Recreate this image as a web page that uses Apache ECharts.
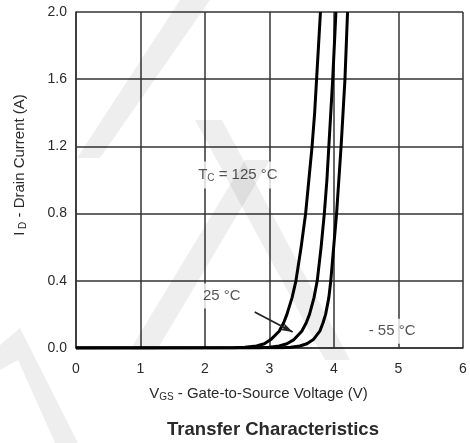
<!DOCTYPE html>
<html>
<head>
<meta charset="utf-8">
<script src="https://cdn.jsdelivr.net/npm/echarts@6/dist/echarts.min.js"></script>
<style>
  html, body { margin: 0; padding: 0; background: #fff; }
  #chart { width: 470px; height: 443px; }
</style>
</head>
<body>
<div id="chart"></div>
<script>
// Gate voltage (V) and drain current (A) for each case temperature
const vgs125 = [0, 2.45, 2.62, 2.8, 2.92, 3.02, 3.15, 3.22, 3.27, 3.35, 3.41, 3.49, 3.56, 3.61, 3.66, 3.70, 3.73, 3.76, 3.79];
const id125  = [0, 0.002, 0.005, 0.012, 0.025, 0.05, 0.1, 0.15, 0.2, 0.3, 0.4, 0.6, 0.8, 1.0, 1.2, 1.4, 1.6, 1.8, 2.0];

const vgs25 = [0, 2.85, 3.0, 3.15, 3.27, 3.38, 3.50, 3.57, 3.62, 3.69, 3.74, 3.80, 3.85, 3.89, 3.92, 3.95, 3.98, 4.005, 4.03];
const id25  = [0, 0.002, 0.005, 0.012, 0.025, 0.05, 0.1, 0.15, 0.2, 0.3, 0.4, 0.6, 0.8, 1.0, 1.2, 1.4, 1.6, 1.8, 2.0];

const vgsM55 = [0, 3.2, 3.33, 3.47, 3.58, 3.68, 3.78, 3.83, 3.87, 3.92, 3.95, 3.995, 4.04, 4.075, 4.11, 4.14, 4.17, 4.19, 4.21];
const idM55  = [0, 0.002, 0.005, 0.012, 0.025, 0.05, 0.1, 0.15, 0.2, 0.3, 0.4, 0.6, 0.8, 1.0, 1.2, 1.4, 1.6, 1.8, 2.0];

// Axis tick labels
const xTickLabels = ['0', '1', '2', '3', '4', '5', '6'];
const yTickLabels = ['0.0', '0.4', '0.8', '1.2', '1.6', '2.0'];

const FONT = '"Liberation Sans", Arial, Helvetica, sans-serif';
const INK = '#2a2a2a';
const pairs = (xs, ys) => xs.map((x, i) => [x, ys[i]]);

const chart = echarts.init(document.getElementById('chart'), null, { renderer: 'canvas' });

function curve(name, xs, ys) {
  return {
    name: name,
    type: 'line',
    data: pairs(xs, ys),
    showSymbol: false,
    smooth: false,
    clip: true,
    lineStyle: { color: '#000', width: 3, join: 'round' },
    z: 3,
    animation: false
  };
}

const subRich = {
  t: { fontSize: 15, color: INK, fontFamily: FONT },
  s: { fontSize: 10, color: INK, fontFamily: FONT, padding: [7, 0, 0, 0] }
};

function tempLabel(pos, text) {
  return {
    type: 'scatter',
    data: [pos],
    symbolSize: 0,
    silent: true,
    animation: false,
    z: 4,
    label: {
      show: true,
      position: 'inside',
      formatter: text,
      backgroundColor: '#fff',
      padding: [5, 2],
      rich: subRich
    }
  };
}

const nameRich = {
  v: { fontSize: 15, color: INK, fontFamily: FONT },
  s: { fontSize: 10, color: INK, fontFamily: FONT, padding: [7, 0, 0, 0] },
  t: { fontSize: 15, color: INK, fontFamily: FONT }
};

const option = {
  backgroundColor: '#fff',
  animation: false,
  title: {
    text: 'Transfer Characteristics',
    left: 268,
    top: 415,
    textAlign: 'center',
    textStyle: { fontFamily: FONT, fontSize: 18.5, fontWeight: 'bold', color: INK }
  },
  grid: { left: 76, right: 7, top: 12, bottom: 95, containLabel: false },
  xAxis: {
    type: 'value',
    min: 0, max: 6, interval: 1,
    name: '{v|V}{s|GS}{t| - Gate-to-Source Voltage (V)}',
    nameLocation: 'middle',
    nameGap: 37,
    nameTextStyle: { padding: [0, 22, 0, 0], rich: nameRich },
    axisLine: { show: true, lineStyle: { color: '#333', width: 1.5 } },
    axisTick: { show: false },
    axisLabel: {
      margin: 14,
      fontFamily: FONT, fontSize: 14, color: INK,
      formatter: (v) => xTickLabels[Math.round(v)]
    },
    splitLine: { show: true, lineStyle: { color: '#333', width: 1.5 } }
  },
  yAxis: {
    type: 'value',
    min: 0, max: 2, interval: 0.4,
    name: '{v|I}{s| D}{t| - Drain Current (A)}',
    nameLocation: 'middle',
    nameGap: 48,
    nameRotate: 90,
    nameTextStyle: { padding: [0, 0, 0, 30], rich: nameRich },
    axisLine: { show: true, lineStyle: { color: '#333', width: 1.5 } },
    axisTick: { show: false },
    axisLabel: {
      margin: 9,
      fontFamily: FONT, fontSize: 14, color: INK,
      formatter: (v) => yTickLabels[Math.round(v / 0.4)]
    },
    splitLine: { show: true, lineStyle: { color: '#333', width: 1.5 } }
  },
  series: [
    curve('125 °C', vgs125, id125),
    Object.assign(curve('25 °C', vgs25, id25), {
      markLine: {
        silent: true,
        animation: false,
        symbol: ['none', 'arrow'],
        symbolSize: [6, 12],
        label: { show: false },
        lineStyle: { color: '#222', width: 1.8, type: 'solid' },
        data: [[{ coord: [2.77, 0.214] }, { coord: [3.36, 0.095] }]]
      }
    }),
    curve('-55 °C', vgsM55, idM55),
    tempLabel([2.51, 1.03], '{t|T}{s|C}{t| = 125 °C}'),
    tempLabel([2.26, 0.31], '{t|25 °C}'),
    tempLabel([4.9, 0.1], '{t|- 55 °C}')
  ],
  graphic: [
    { type: 'polygon', silent: true, z: 100,
      shape: { points: [[180, 0], [210, 0], [100, 158], [77, 158]] },
      style: { fill: 'rgba(0,0,0,0.065)' } },
    { type: 'polygon', silent: true, z: 100,
      shape: { points: [[245, 160], [270, 160], [157, 350], [130, 350]] },
      style: { fill: 'rgba(0,0,0,0.065)' } },
    { type: 'polygon', silent: true, z: 100,
      shape: { points: [[195, 120], [222, 120], [350, 360], [325, 360]] },
      style: { fill: 'rgba(0,0,0,0.065)' } },
    { type: 'polygon', silent: true, z: 100,
      shape: { points: [[0, 345], [20, 328], [78, 443], [55, 443], [18, 360], [0, 370]] },
      style: { fill: 'rgba(0,0,0,0.065)' } }
  ]
};

chart.setOption(option);
</script>
</body>
</html>
